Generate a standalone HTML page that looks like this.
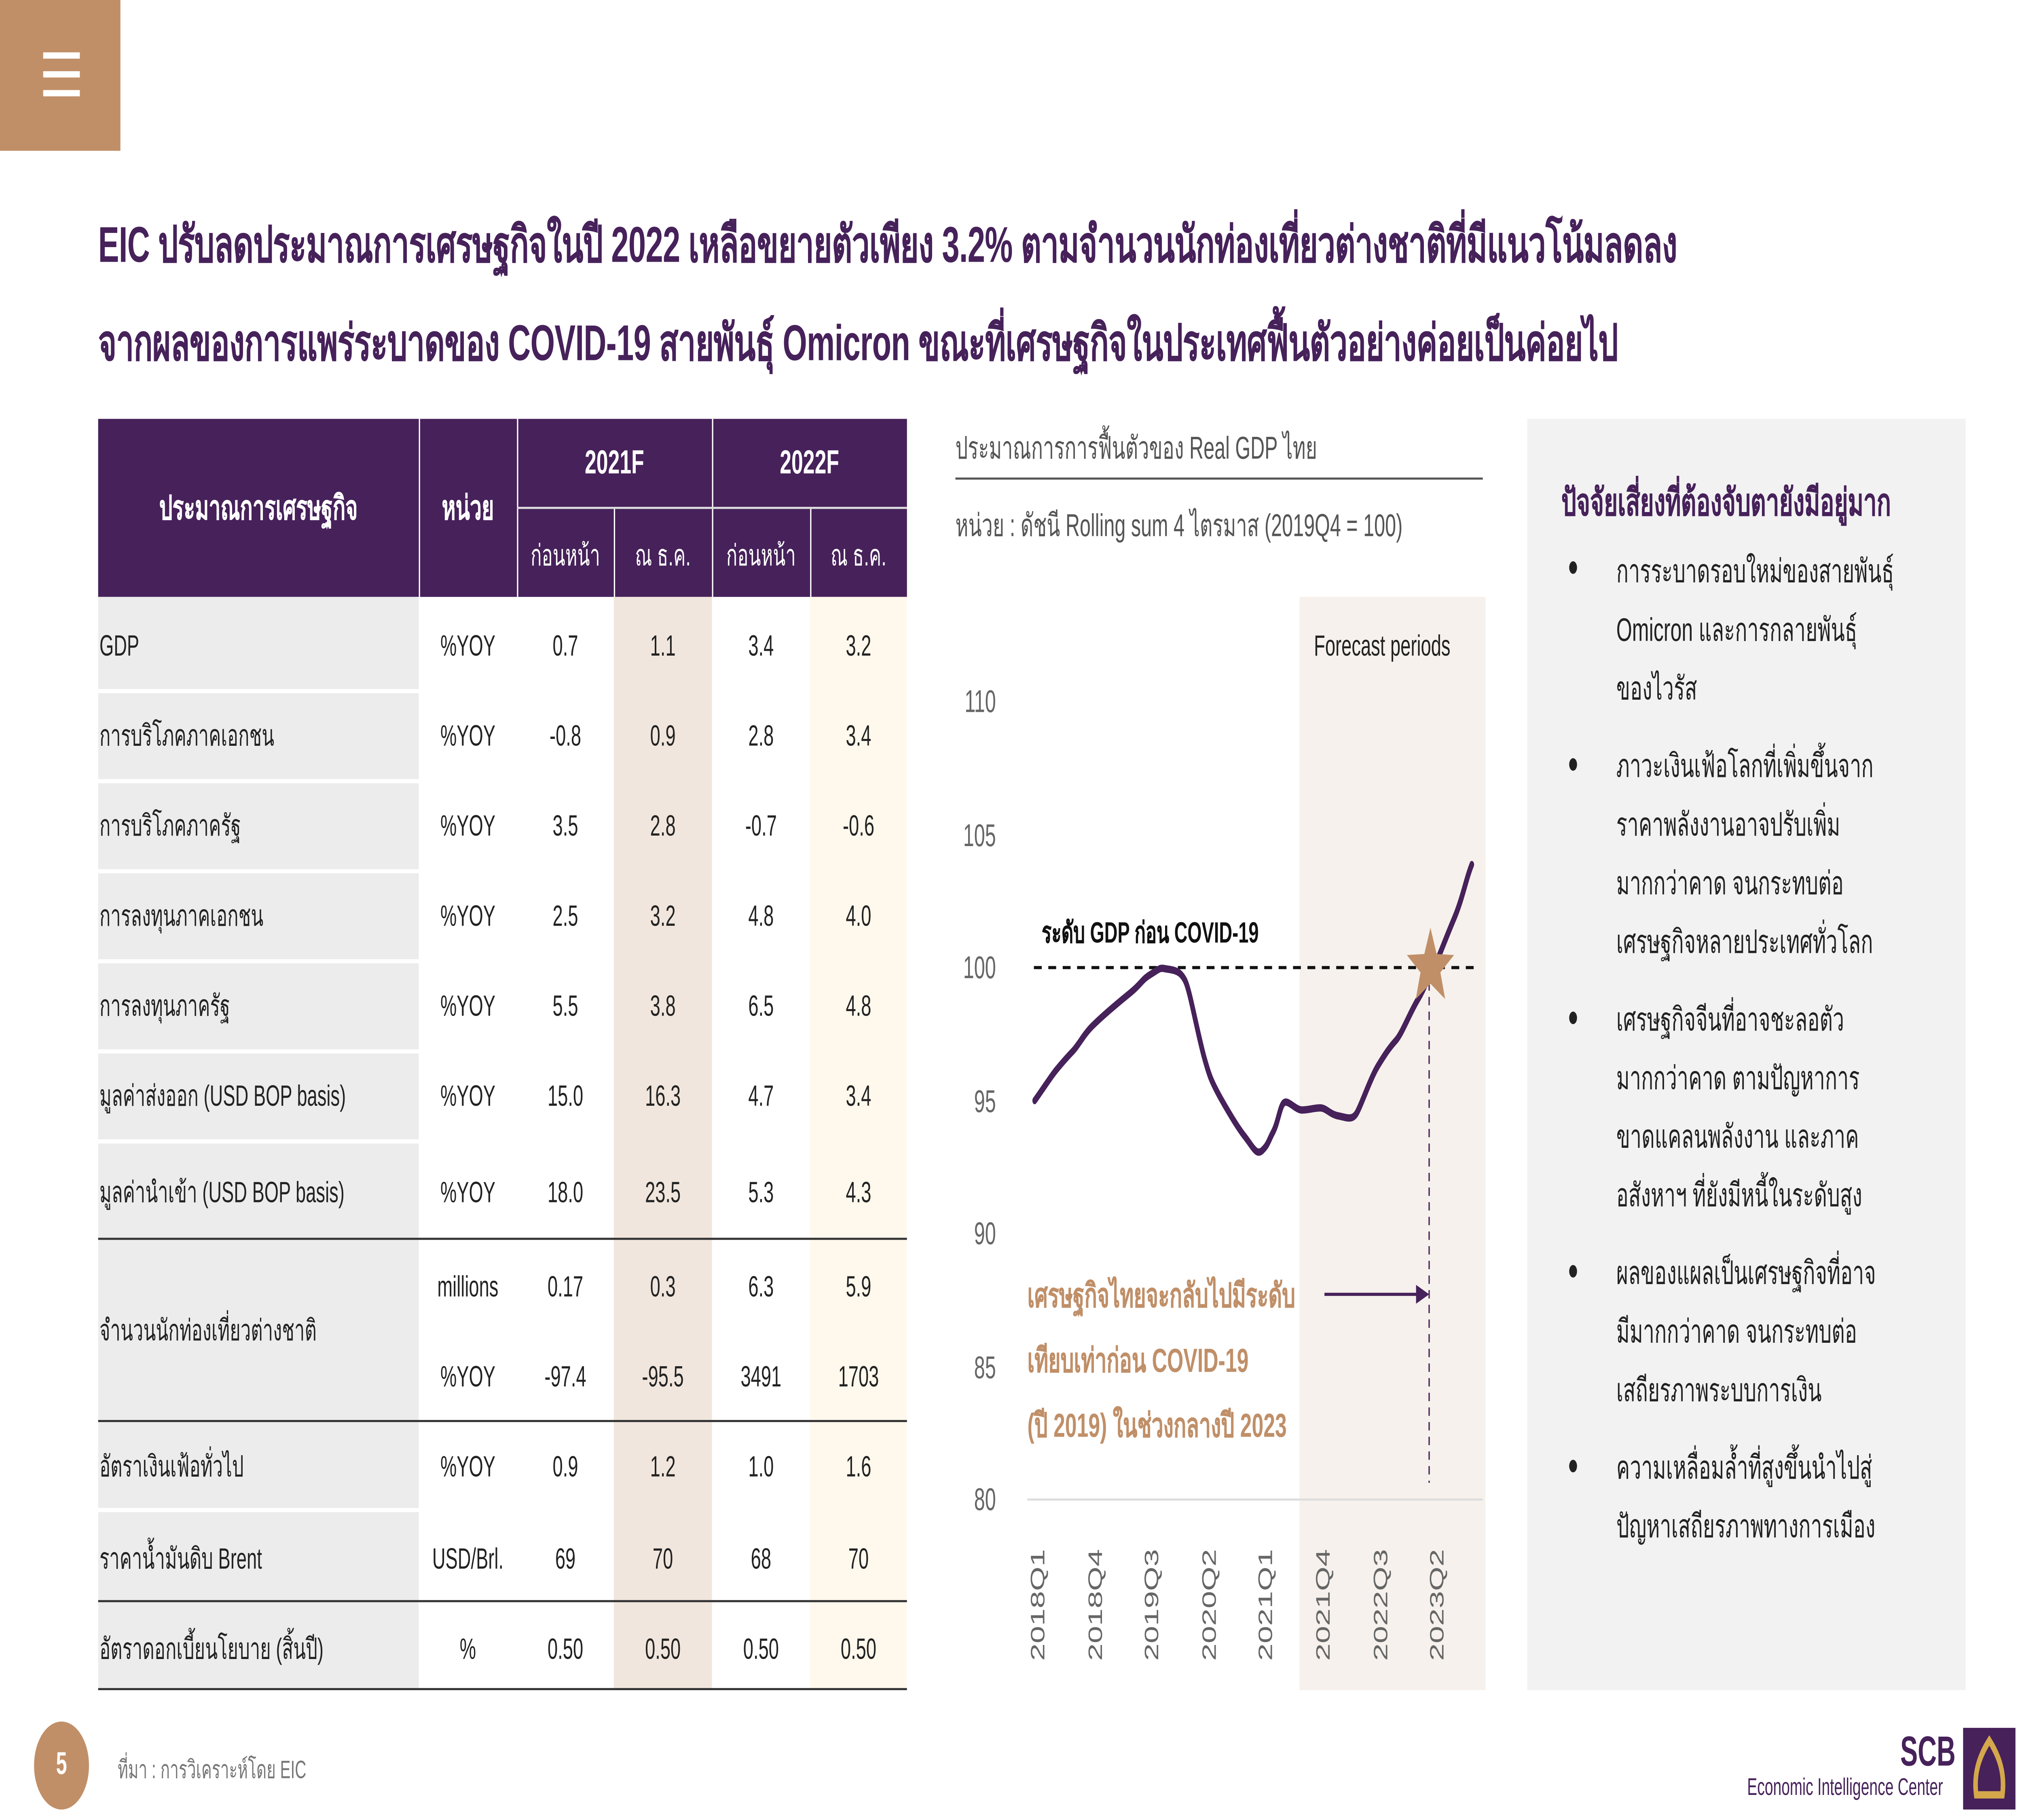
<!DOCTYPE html>
<html><head><meta charset="utf-8"><style>
html,body{margin:0;padding:0;background:#fff;overflow:hidden;width:100%;height:100%;}
body{position:relative;}
#s{position:absolute;left:0;top:0;width:1545px;height:869px;transform:scale(5.1780);transform-origin:0 0;font-family:"Liberation Sans","Noto Sans CJK SC","WenQuanYi Zen Hei",sans-serif;}
.a{position:absolute;white-space:nowrap;}
.t{font-size:24px;font-weight:bold;color:#46215a;left:75px;letter-spacing:-0.2px;}
.c{position:absolute;font-size:14px;color:#222;text-align:center;line-height:16px;}
.bl{position:absolute;left:1235px;font-size:15.5px;color:#222;line-height:28px;white-space:nowrap;}
.dot{position:absolute;left:1199px;width:6px;height:6px;border-radius:3px;background:#222;}
</style></head><body><div id="s">
<div class="a" style="left:0;top:0;width:92px;height:72px;background:#c08f68"></div>
<div class="a" style="left:33px;top:25px;width:28px;height:3px;background:#fff"></div>
<div class="a" style="left:33px;top:34px;width:28px;height:3px;background:#fff"></div>
<div class="a" style="left:33px;top:43px;width:28px;height:3px;background:#fff"></div>
<div class="a t" style="top:97px">EIC ปรับลดประมาณการเศรษฐกิจในปี 2022 เหลือขยายตัวเพียง 3.2% ตามจำนวนนักท่องเที่ยวต่างชาติที่มีแนวโน้มลดลง</div>
<div class="a t" style="top:144px">จากผลของการแพร่ระบาดของ COVID-19 สายพันธุ์ Omicron ขณะที่เศรษฐกิจในประเทศฟื้นตัวอย่างค่อยเป็นค่อยไป</div>

<div class="a" style="left:75px;top:200px;width:618px;height:85px;background:#46215a"></div>
<div class="a" style="left:75px;top:285px;width:245px;height:522px;background:#ececec"></div>
<div class="a" style="left:469px;top:285px;width:75px;height:522px;background:#f1e6dd"></div>
<div class="a" style="left:619px;top:285px;width:74px;height:522px;background:#fff8ec"></div>
<div class="a" style="left:320px;top:200px;width:1px;height:85px;background:#fff"></div>
<div class="a" style="left:395px;top:200px;width:1px;height:85px;background:#fff"></div>
<div class="a" style="left:544px;top:200px;width:1px;height:85px;background:#fff"></div>
<div class="a" style="left:469px;top:243px;width:1px;height:42px;background:#fff"></div>
<div class="a" style="left:619px;top:243px;width:1px;height:42px;background:#fff"></div>
<div class="a" style="left:395px;top:242px;width:298px;height:1px;background:#ddd"></div>
<div class="c" style="left:75px;top:236px;width:245px;color:#fff;font-weight:bold;font-size:16px">ประมาณการเศรษฐกิจ</div>
<div class="c" style="left:320px;top:236px;width:75px;color:#fff;font-weight:bold;font-size:16px">หน่วย</div>
<div class="c" style="left:395px;top:214px;width:149px;color:#fff;font-weight:bold;font-size:16px">2021F</div>
<div class="c" style="left:544px;top:214px;width:149px;color:#fff;font-weight:bold;font-size:16px">2022F</div>
<div class="c" style="left:395px;top:257px;width:74px;color:#fff">ก่อนหน้า</div>
<div class="c" style="left:469px;top:257px;width:75px;color:#fff">ณ ธ.ค.</div>
<div class="c" style="left:544px;top:257px;width:75px;color:#fff">ก่อนหน้า</div>
<div class="c" style="left:619px;top:257px;width:74px;color:#fff">ณ ธ.ค.</div>
<div class="a" style="left:75px;top:329px;width:245px;height:2px;background:#fff"></div>
<div class="a" style="left:75px;top:372px;width:245px;height:2px;background:#fff"></div>
<div class="a" style="left:75px;top:415px;width:245px;height:2px;background:#fff"></div>
<div class="a" style="left:75px;top:458px;width:245px;height:2px;background:#fff"></div>
<div class="a" style="left:75px;top:501px;width:245px;height:2px;background:#fff"></div>
<div class="a" style="left:75px;top:544px;width:245px;height:2px;background:#fff"></div>
<div class="a" style="left:75px;top:720px;width:245px;height:2px;background:#fff"></div>
<div class="a" style="left:75px;top:591px;width:618px;height:1px;background:#333"></div>
<div class="a" style="left:75px;top:678px;width:618px;height:1px;background:#333"></div>
<div class="a" style="left:75px;top:764px;width:618px;height:1px;background:#333"></div>
<div class="a" style="left:75px;top:806px;width:618px;height:1px;background:#333"></div>
<div id="rows"></div>

<div class="a" style="left:730px;top:202px;font-size:15px;color:#555">ประมาณการการฟื้นตัวของ Real GDP ไทย</div>
<div class="a" style="left:730px;top:228px;width:403px;height:1px;background:#555"></div>
<div class="a" style="left:730px;top:239px;font-size:15px;color:#555">หน่วย : ดัชนี Rolling sum 4 ไตรมาส (2019Q4 = 100)</div>
<svg class="a" style="left:0;top:0" width="1545" height="869" viewBox="0 0 1545 869">
<rect x="993" y="285" width="142" height="522" fill="#f6f1ec"/>
<line x1="785" y1="716" x2="1133" y2="716" stroke="#ddd" stroke-width="1"/>
<g font-size="15" fill="#666" text-anchor="end" font-family="Liberation Sans">
<text x="761" y="340">110</text><text x="761" y="404">105</text><text x="761" y="467">100</text>
<text x="761" y="531">95</text><text x="761" y="594">90</text><text x="761" y="658">85</text><text x="761" y="721">80</text>
</g>
<g font-size="15" fill="#666" font-family="Liberation Sans">
<text transform="translate(798,793) rotate(-90)">2018Q1</text>
<text transform="translate(842,793) rotate(-90)">2018Q4</text>
<text transform="translate(885,793) rotate(-90)">2019Q3</text>
<text transform="translate(929,793) rotate(-90)">2020Q2</text>
<text transform="translate(972,793) rotate(-90)">2021Q1</text>
<text transform="translate(1016,793) rotate(-90)">2021Q4</text>
<text transform="translate(1060,793) rotate(-90)">2022Q3</text>
<text transform="translate(1103,793) rotate(-90)">2023Q2</text>
</g>
<text x="1004" y="313" font-size="14" fill="#222" font-family="Liberation Sans">Forecast periods</text>
<line x1="790" y1="462" x2="1127" y2="462" stroke="#111" stroke-width="1.5" stroke-dasharray="6,5"/>
<line x1="1092" y1="462" x2="1092" y2="708" stroke="#46215a" stroke-width="1" stroke-dasharray="4,3"/>
<path d="M790.6,525.5 C798,519 803,514 807.2,510.8 S815,505 819.6,502 S828,494 834.8,489.8 S852,480 862.4,474.7 S872,468 879,465.3 S886,462 890,462.5 S899,463 902.4,465.3 S907,470 909.3,475.8 S917,498 920.4,505.5 S925,515 928.6,519.5 S944,537 950.7,542.3 S960,552 964.5,549.3 S969,545 972.8,540.5 S978,528 981.1,526.5 S990,530 994.9,530 S1004,529 1008.7,529 S1016,532 1022.5,532.8 S1033,535 1036.3,531.8 S1047,515 1052.8,509 S1062,500 1066.6,496.8 S1077,484 1083.2,477.5 S1090,468 1094.2,463.5 S1104,449 1110.8,439 S1120,420 1124.6,412.8" fill="none" stroke="#46215a" stroke-width="3.5" stroke-linecap="round"/>
<polygon points="1093,443 1097.7,455.5 1111,456 1100.6,464.3 1104.2,477 1093,469.7 1081.8,477 1085.4,464.3 1075,456 1088.3,455.5" fill="#c08f68"/>
<line x1="1012" y1="618" x2="1084" y2="618" stroke="#46215a" stroke-width="1.5"/>
<polygon points="1092,618 1082,613.5 1082,622.5" fill="#46215a"/>
</svg>
<div class="a" style="left:796px;top:435px;font-size:14px;font-weight:bold;color:#111">ระดับ GDP ก่อน COVID-19</div>
<div class="a" style="left:785px;top:604px;font-size:16px;font-weight:bold;color:#c08f68;line-height:31px">เศรษฐกิจไทยจะกลับไปมีระดับ<br>เทียบเท่าก่อน COVID-19<br>(ปี 2019) ในช่วงกลางปี 2023</div>

<div class="a" style="left:1167px;top:200px;width:335px;height:607px;background:#f2f2f2"></div>
<div class="a" style="left:1193px;top:225px;font-size:18px;font-weight:bold;color:#46215a">ปัจจัยเสี่ยงที่ต้องจับตายังมีอยู่มาก</div>
<div class="dot" style="top:268px"></div><div class="bl" style="top:260px">การระบาดรอบใหม่ของสายพันธุ์<br>Omicron และการกลายพันธุ์<br>ของไวรัส</div>
<div class="dot" style="top:362px"></div><div class="bl" style="top:353px">ภาวะเงินเฟ้อโลกที่เพิ่มขึ้นจาก<br>ราคาพลังงานอาจปรับเพิ่ม<br>มากกว่าคาด จนกระทบต่อ<br>เศรษฐกิจหลายประเทศทั่วโลก</div>
<div class="dot" style="top:483px"></div><div class="bl" style="top:474px">เศรษฐกิจจีนที่อาจชะลอตัว<br>มากกว่าคาด ตามปัญหาการ<br>ขาดแคลนพลังงาน และภาค<br>อสังหาฯ ที่ยังมีหนี้ในระดับสูง</div>
<div class="dot" style="top:604px"></div><div class="bl" style="top:595px">ผลของแผลเป็นเศรษฐกิจที่อาจ<br>มีมากกว่าคาด จนกระทบต่อ<br>เสถียรภาพระบบการเงิน</div>
<div class="dot" style="top:697px"></div><div class="bl" style="top:688px">ความเหลื่อมล้ำที่สูงขึ้นนำไปสู่<br>ปัญหาเสถียรภาพทางการเมือง</div>

<div class="a" style="left:26px;top:822px;width:42px;height:42px;border-radius:21px;background:#c08f68;color:#fff;font-weight:bold;font-size:15px;text-align:center;line-height:42px">5</div>
<div class="a" style="left:90px;top:836px;font-size:12px;color:#777">ที่มา : การวิเคราะห์โดย EIC</div>
<div class="a" style="left:1452px;top:826px;font-size:20px;font-weight:bold;color:#46215a">SCB</div>
<div class="a" style="left:1335px;top:848px;font-size:11.5px;color:#46215a">Economic Intelligence Center</div>
<div class="a" style="left:1500px;top:825px;width:40px;height:39px;background:#46215a"></div>
<svg class="a" style="left:1500px;top:825px" width="40" height="39"><path d="M20,6 C12,14 8,22 10,32 L30,32 C32,22 28,14 20,6 Z" fill="none" stroke="#d4a84b" stroke-width="3.5"/></svg>
</div>
<script>
var R=[["GDP","%YOY","0.7","1.1","3.4","3.2",308],["การบริโภคภาคเอกชน","%YOY","-0.8","0.9","2.8","3.4",351],["การบริโภคภาครัฐ","%YOY","3.5","2.8","-0.7","-0.6",394],["การลงทุนภาคเอกชน","%YOY","2.5","3.2","4.8","4.0",437],["การลงทุนภาครัฐ","%YOY","5.5","3.8","6.5","4.8",480],["มูลค่าส่งออก (USD BOP basis)","%YOY","15.0","16.3","4.7","3.4",523],["มูลค่านำเข้า (USD BOP basis)","%YOY","18.0","23.5","5.3","4.3",569],["","millions","0.17","0.3","6.3","5.9",614],["จำนวนนักท่องเที่ยวต่างชาติ","","","","","",635],["","%YOY","-97.4","-95.5","3491","1703",657],["อัตราเงินเฟ้อทั่วไป","%YOY","0.9","1.2","1.0","1.6",700],["ราคาน้ำมันดิบ Brent","USD/Brl.","69","70","68","70",744],["อัตราดอกเบี้ยนโยบาย (สิ้นปี)","%","0.50","0.50","0.50","0.50",787]];
var X=[[320,75],[395,74],[469,75],[544,75],[619,74]],h="";
R.forEach(function(r){var y=r[6]-8;h+='<div class="a" style="left:76px;top:'+y+'px;font-size:14px;color:#222;line-height:16px">'+r[0]+'</div>';for(var i=0;i<5;i++)h+='<div class="c" style="left:'+X[i][0]+'px;top:'+y+'px;width:'+X[i][1]+'px">'+r[i+1]+'</div>';});
document.getElementById("rows").innerHTML=h;
var W=window.innerWidth||document.documentElement.clientWidth||8000;
var H=window.innerHeight||document.documentElement.clientHeight||4500;
document.getElementById("s").style.transform="scale("+(W/1545)+","+(H/869)+")";
</script>
</body></html>
